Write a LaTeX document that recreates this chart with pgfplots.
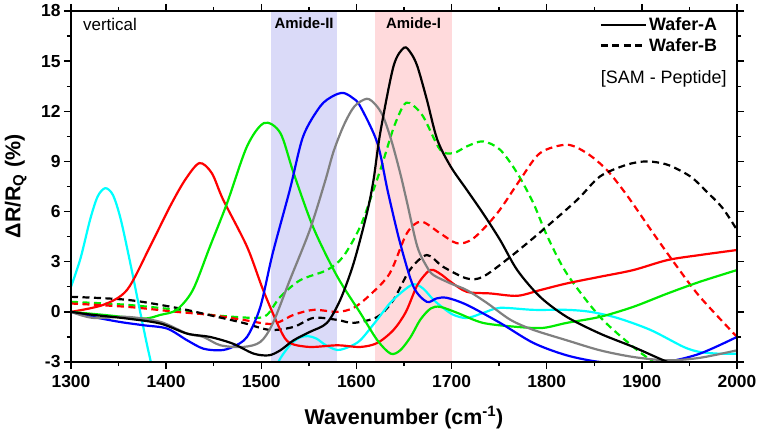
\documentclass[border=0pt]{standalone}
\usepackage{pgfplots}
\pgfplotsset{compat=1.18}
\usepackage{fontspec}
\setmainfont{Liberation Sans}
\definecolor{cy}{RGB}{0,255,255}
\definecolor{rd}{RGB}{255,0,0}
\definecolor{gn}{RGB}{0,235,0}
\definecolor{bl}{RGB}{0,0,255}
\definecolor{gy}{RGB}{128,128,128}
\definecolor{bandB}{RGB}{218,218,248}
\definecolor{bandR}{RGB}{255,218,220}
\begin{document}
\begin{tikzpicture}
\begin{axis}[
  scale only axis, width=666bp, height=351bp,
  xmin=1300, xmax=2000, ymin=-3, ymax=18,
  xtick={1300,1400,...,2000}, minor xtick={1350,1450,...,1950},
  ytick={-3,0,...,18}, minor ytick={-1.5,1.5,...,16.5},
  tick align=outside, tick pos=both,
  major tick length=7bp, minor tick length=4bp,
  every tick/.style={black, line width=1.4bp},
  axis line style={line width=1.7bp},
  axis on top,
  ticklabel style={font=\fontsize{17.5}{20}\selectfont\bfseries},
  xticklabel style={yshift=-3bp},
  /pgf/number format/assume math mode=true,
  /pgf/number format/1000 sep={},
  xlabel={Wavenumber (cm\textsuperscript{-1})},
  ylabel={ΔR/R\textsubscript{Q} (\%)},
  label style={font=\fontsize{21.5}{24}\selectfont\bfseries},
  xlabel style={at={(axis description cs:0.5,-0.177)}, anchor=base},
  ylabel style={at={(axis description cs:-0.083,0.5)}, anchor=center},
  legend style={draw=none, fill=none, at={(rel axis cs:0.975,0.99)}, anchor=north east,
    font=\fontsize{18}{20}\selectfont\bfseries, row sep=2bp, inner sep=1bp},
  legend cell align=left,
  legend image code/.code={\draw[#1] (0bp,0bp) -- (45bp,0bp);},
  every axis plot/.append style={line width=2.2bp},
]
\addplot[fill=bandB, draw=none, forget plot] coordinates {(1510,-3) (1510,18) (1580,18) (1580,-3)} -- cycle;
\addplot[fill=bandR, draw=none, forget plot] coordinates {(1620,-3) (1620,18) (1700,18) (1700,-3)} -- cycle;

% Wafer-B dashed
\addplot[gn, smooth, dash pattern=on 7bp off 4.5bp, forget plot] coordinates {
(1300,0.6) (1359,0.42) (1411,0.12) (1446,-0.18) (1492,-0.36) (1506,-0.18) (1520,0.9) (1541,1.9) (1569,2.5) (1586,3.3) (1604,5.1) (1618,7.3) (1628,9.0) (1639,11.0) (1649,12.3) (1656,12.5) (1670,11.7) (1688,9.7) (1702,9.5) (1716,9.9) (1733,10.2) (1751,9.7) (1769,8.3) (1786,6.5) (1800,4.6) (1821,2.3) (1856,-0.3) (1891,-2.1) (1912,-3.0) (1920,-3.4)};
\addplot[rd, smooth, dash pattern=on 7bp off 4.5bp, forget plot] coordinates {
(1300,0.5) (1359,0.3) (1411,0.0) (1446,-0.18) (1481,-0.48) (1512,-0.72) (1534,-0.18) (1555,0.12) (1580,0.0) (1597,0.24) (1614,1.0) (1635,2.3) (1653,4.7) (1668,5.4) (1688,4.7) (1706,4.1) (1723,4.4) (1748,5.9) (1772,7.9) (1793,9.5) (1821,10.0) (1842,9.5) (1863,8.5) (1884,7.0) (1912,4.7) (1937,2.7) (1961,0.9) (2000,-1.5)};
\addplot[black, smooth, dash pattern=on 7bp off 4.5bp, forget plot] coordinates {
(1300,0.9) (1359,0.72) (1411,0.24) (1446,-0.2) (1481,-0.66) (1509,-1.08) (1534,-0.9) (1555,-0.36) (1580,-0.48) (1597,-0.66) (1622,-0.3) (1639,0.72) (1656,2.5) (1674,3.4) (1691,2.7) (1716,2.0) (1733,2.1) (1762,3.3) (1796,4.9) (1832,6.7) (1856,8.1) (1884,8.8) (1905,9.0) (1927,8.8) (1951,8.1) (1968,7.2) (1985,6.2) (2000,4.9)};

% Wafer-A solid
\addplot[cy, smooth, forget plot] coordinates {
(1300,1.5) (1310,3.2) (1320,5.5) (1328,6.9) (1336,7.4) (1344,7.0) (1352,5.6) (1362,3.0) (1372,0.2) (1380,-2.0) (1386,-3.5) (1390,-4.5)};
\addplot[cy, smooth, forget plot] coordinates {
(1512,-4.2) (1518,-3) (1530,-2.0) (1540,-1.55) (1549,-1.45) (1558,-1.6) (1568,-2.0) (1580,-2.28) (1592,-2.1) (1604,-1.7) (1620,-0.6) (1635,0.5) (1648,1.2) (1660,1.65) (1670,1.4) (1681,0.72) (1692,0.2) (1702,-0.18) (1716,-0.37) (1733,-0.07) (1751,0.24) (1786,0.12) (1821,0.12) (1846,0.0) (1874,-0.36) (1909,-1.08) (1944,-2.1) (1961,-2.4) (1980,-2.5) (2000,-2.5)};
\addplot[rd, smooth, forget plot] coordinates {
(1300,0) (1334,0.42) (1359,1.32) (1383,3.9) (1404,6.3) (1420,7.9) (1435,8.9) (1448,8.3) (1460,6.7) (1485,3.9) (1502,1.3) (1520,-1.08) (1530,-1.86) (1551,-2.1) (1580,-2.0) (1604,-2.1) (1622,-1.86) (1639,-1.08) (1652,0.0) (1664,1.6) (1675,2.4) (1681,2.5) (1690,2.2) (1699,1.8) (1716,1.2) (1741,1.1) (1769,0.96) (1793,1.3) (1821,1.7) (1856,2.1) (1891,2.5) (1927,3.1) (1961,3.4) (2000,3.7)};
\addplot[gn, smooth, forget plot] coordinates {
(1300,0) (1334,-0.18) (1376,-0.4) (1394,-0.18) (1411,0.12) (1428,1.3) (1446,3.9) (1464,6.5) (1485,9.9) (1503,11.3) (1520,10.7) (1534,8.3) (1555,5.0) (1580,2.1) (1604,-0.06) (1622,-1.7) (1636,-2.5) (1646,-2.3) (1657,-1.5) (1667,-0.48) (1678,0.2) (1688,0.3) (1706,-0.06) (1733,-0.66) (1769,-0.9) (1796,-0.96) (1821,-0.66) (1856,-0.3) (1891,0.3) (1927,1.1) (1961,1.8) (2000,2.5)};
\addplot[bl, smooth, forget plot] coordinates {
(1300,0) (1323,-0.3) (1351,-0.6) (1376,-0.8) (1401,-1.0) (1422,-1.7) (1439,-2.2) (1457,-2.3) (1470,-2.1) (1485,-1.5) (1499,0.3) (1512,3.5) (1530,7.3) (1544,10.5) (1562,12.3) (1575,12.9) (1586,13.1) (1596,12.8) (1604,12.3) (1622,10.1) (1633,7.2) (1646,4.1) (1660,1.5) (1674,0.6) (1684,0.8) (1695,0.84) (1716,0.42) (1751,-0.66) (1786,-1.86) (1821,-2.6) (1856,-3.0) (1890,-3.05) (1925,-3.0) (1961,-2.5) (2000,-1.5)};
\addplot[gy, smooth, forget plot] coordinates {
(1300,0) (1323,-0.36) (1359,-0.3) (1394,-0.6) (1422,-1.3) (1439,-1.5) (1457,-2.0) (1481,-2.1) (1499,-1.8) (1512,-0.7) (1530,1.9) (1551,4.9) (1567,7.8) (1576,9.6) (1587,11.2) (1598,12.3) (1611,12.75) (1620,12.4) (1628,11.7) (1637,10.2) (1646,8.3) (1653,6.6) (1664,3.9) (1674,2.7) (1681,2.2) (1699,1.7) (1716,1.3) (1737,0.54) (1762,-0.48) (1786,-1.08) (1821,-1.7) (1856,-2.3) (1891,-2.7) (1927,-2.9) (1961,-2.75) (2000,-2.3)};
\addplot[black, smooth, forget plot] coordinates {
(1300,0) (1323,-0.18) (1359,-0.4) (1394,-0.7) (1422,-1.3) (1446,-1.5) (1470,-1.9) (1492,-2.5) (1508,-2.6) (1520,-2.3) (1534,-1.7) (1551,-1.2) (1569,-0.66) (1583,0.72) (1597,2.9) (1611,5.9) (1618,7.9) (1625,10.7) (1639,14.7) (1650,15.8) (1657,15.5) (1664,14.7) (1674,12.7) (1685,10.3) (1699,8.7) (1716,7.3) (1733,5.9) (1751,4.3) (1769,2.5) (1793,0.9) (1821,-0.3) (1856,-1.3) (1891,-2.1) (1927,-3.0) (1950,-3.4)};

\addlegendimage{black, line width=2.2bp}
\addlegendentry{Wafer-A}
\addlegendimage{black, line width=2.2bp, dash pattern=on 7bp off 4.5bp}
\addlegendentry{Wafer-B}

\node[anchor=west, font=\fontsize{17}{19}\selectfont] at (rel axis cs:0.013,0.963) {vertical};
\node[font=\fontsize{15}{18}\selectfont\bfseries] at (axis cs:1545,17.25) {Amide-II};
\node[font=\fontsize{15}{18}\selectfont\bfseries] at (axis cs:1660,17.25) {Amide-I};
\node[font=\fontsize{18}{20}\selectfont] at (rel axis cs:0.89,0.806) {[SAM - Peptide]};
\end{axis}
\pgfresetboundingbox
\path[use as bounding box] (-71bp,-69bp) rectangle (688bp,362bp);
\end{tikzpicture}
\end{document}
